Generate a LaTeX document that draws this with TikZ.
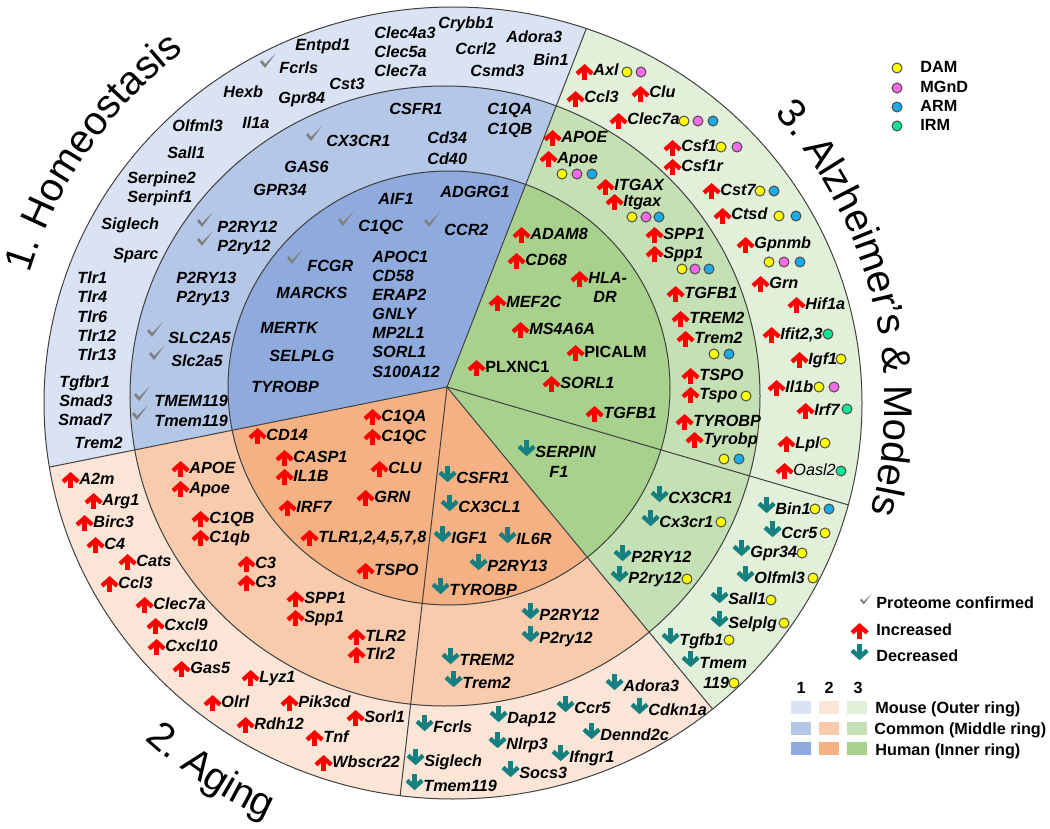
\documentclass[tikz,border=0pt]{standalone}
\usepackage{fontspec}
\setmainfont{Liberation Sans}
\usetikzlibrary{arrows.meta}
\definecolor{bluO}{HTML}{DAE3F3}
\definecolor{bluM}{HTML}{B4C7E7}
\definecolor{bluI}{HTML}{8FAADC}
\definecolor{oraO}{HTML}{FBE5D6}
\definecolor{oraM}{HTML}{F8CBAD}
\definecolor{oraI}{HTML}{F4B183}
\definecolor{grnO}{HTML}{E2F0D9}
\definecolor{grnM}{HTML}{C5E0B4}
\definecolor{grnI}{HTML}{A9D18E}
\definecolor{upred}{HTML}{FF0000}
\definecolor{dnteal}{HTML}{168080}
\definecolor{chkgray}{HTML}{7F7F7F}
\definecolor{damc}{HTML}{FFFF00}
\definecolor{mgndc}{HTML}{F76BE9}
\definecolor{armc}{HTML}{1AABE8}
\definecolor{irmc}{HTML}{10E596}
\newcommand{\gf}{\fontsize{8.1}{9.7}\selectfont\bfseries\itshape}
\newcommand{\lgf}{\fontsize{8.1}{9.7}\selectfont\bfseries}
\newcommand{\ttf}{\fontsize{20}{24}\selectfont}
\tikzset{
  gn/.style={font=\gf, inner sep=0pt, anchor=base west},
  lg/.style={font=\lgf, inner sep=0pt, anchor=base west},
  ttlch/.style={font=\ttf, inner sep=0pt, anchor=base},
  ringln/.style={draw=black!75, line width=0.5pt},
  upa/.style={draw=upred, line width=2.2pt, -{Straight Barb[length=3.4pt,width=7.6pt]}},
  dna/.style={draw=dnteal, line width=2.2pt, -{Straight Barb[length=3.4pt,width=7.6pt]}},
  mk/.style={draw=black!70, line width=0.5pt, fill=#1},
  chk/.pic={\fill[chkgray] (-8,0) -- (-6,-2) -- (-3,2) -- (8,-9) -- (-3,6) -- cycle;},
}
\newcommand{\incr}{\tikz[x=1pt,y=1pt,baseline=0pt]{\useasboundingbox (0,-2) rectangle (8,7); \draw[upa] (3.6,-1.8) -- (3.6,6);}}
\newcommand{\decr}{\tikz[x=1pt,y=1pt,baseline=0pt]{\useasboundingbox (0,-2) rectangle (8,8.5); \draw[dna] (3.6,8.3) -- (3.6,0.4);}}

\begin{document}
\begin{tikzpicture}[x=0.5pt, y=-0.5pt]
  \useasboundingbox (0,0) rectangle (1050,829);
  \coordinate (J) at (447,387);
  \coordinate (oc) at (453,403);
  \coordinate (mc) at (445,396);
  \coordinate (ic) at (449,388);
  \coordinate (Af) at (861,-678);
  \coordinate (Bf) at (-744,627);
  \coordinate (Cf) at (306,1617);
  \coordinate (Df) at (1251,1362);
  \coordinate (Ef) at (1662,744);

  % sectors
  \begin{scope}
    \clip (J) -- (Af) -- (-800,-800) -- (Bf) -- cycle;
    \foreach \cen/\rx/\ry/\col in {oc/409/396/bluO, mc/315/310/bluM, ic/221/217/bluI}
      \fill[\col] (\cen) ellipse [x radius=\rx, y radius=\ry];
  \end{scope}
  \begin{scope}
    \clip (J) -- (Bf) -- (-800,1700) -- (Cf) -- (Df) -- cycle;
    \foreach \cen/\rx/\ry/\col in {oc/409/396/oraO, mc/315/310/oraM, ic/221/217/oraI}
      \fill[\col] (\cen) ellipse [x radius=\rx, y radius=\ry];
  \end{scope}
  \begin{scope}
    \clip (J) -- (Df) -- (Ef) -- (Af) -- cycle;
    \foreach \cen/\rx/\ry/\col in {oc/409/396/grnO, mc/315/310/grnM, ic/221/217/grnI}
      \fill[\col] (\cen) ellipse [x radius=\rx, y radius=\ry];
  \end{scope}
  \foreach \cen/\rx/\ry in {oc/409/396, mc/315/310, ic/221/217}
    \draw[ringln] (\cen) ellipse [x radius=\rx, y radius=\ry];
  \begin{scope}
    \clip (oc) ellipse [x radius=409, y radius=396];
    \foreach \p in {Af, Bf, Cf, Df, Ef}
      \draw[ringln] (J) -- (\p);
  \end{scope}

  % titles, one letter at a time round the rim
  \foreach \c/\w [count=\i, remember=\e as \s (initially -163), evaluate=\w as \e using \s+\w*5.173]
      in {1/.556, ./.278, {}/.278, H/.722, o/.556, m/.833, e/.556, o/.556, s/.5, t/.278, a/.556,
          s/.5, i/.222, s/.5} {
    \pgfmathsetmacro{\m}{\s+\w*2.587}
    \path (oc) ++(\m:443) node[ttlch, rotate={-90-(\m)}] (homt\i) {\c};
  }
  \foreach \c/\w [count=\i, remember=\e as \s (initially -42), evaluate=\w as \e using \s+\w*5.305]
      in {3/.556, ./.278, {}/.278, A/.667, l/.222, z/.5, h/.556, e/.556, i/.222, m/.833, e/.556,
          r/.333, '/.191, s/.5, {}/.278, \&/.667, {}/.278, M/.833, o/.556, d/.556, e/.556, l/.222,
          s/.5} {
    \pgfmathsetmacro{\m}{\s+\w*2.653}
    \path (oc) ++(\m:432) node[ttlch, rotate={-90-(\m)}] (adt\i) {\c};
  }
  \foreach \c/\w [count=\i, remember=\e as \s (initially 132.5), evaluate=\w as \e using \s-\w*5.026]
      in {2/.556, ./.278, {}/.278, A/.667, g/.556, i/.222, n/.556, g/.556} {
    \pgfmathsetmacro{\m}{\s-\w*2.513}
    \path (oc) ++(\m:456) node[ttlch, rotate={90-(\m)}] (agt\i) {\c};
  }

  % homeostasis
  \foreach \x/\y/\t [count=\i] in {295/51/Entpd1, 279/74/Fcrls, 374/39/Clec4a3, 374/58/Clec5a,
      374/77/Clec7a, 438/29/Crybb1, 506/43/Adora3, 455/55/Ccrl2, 533/66/Bin1, 470/77/Csmd3,
      223/98/Hexb, 278/104/Gpr84, 329/90/Cst3, 172/132/Olfml3, 242/129/Il1a, 167/159/Sall1,
      127/184/Serpine2, 127/203/Serpinf1, 101/229/Siglech, 113/259/Sparc, 77/283/Tlr1,
      77/302/Tlr4, 77/322/Tlr6, 77/341/Tlr12, 77/360/Tlr13, 59/387/Tgfbr1, 59/406/Smad3,
      58/425/Smad7, 74/448/Trem2}
    \node[gn] (hmo\i) at (\x,\y) {\t};
  \foreach \x/\y/\t [count=\i] in {389/115/CSFR1, 487/115/C1QA, 487/134/C1QB, 326/147/CX3CR1,
      427/144/Cd34, 427/164/Cd40, 284/172/GAS6, 253/195/GPR34, 217/233/P2RY12, 217/251/P2ry12,
      176/283/P2RY13, 176/302/P2ry13, 168/343/SLC2A5, 171/366/Slc2a5, 154/406/TMEM119,
      154/426/Tmem119}
    \node[gn] (hmm\i) at (\x,\y) {\t};
  \foreach \x/\y/\t [count=\i] in {378/205/AIF1, 440/198/ADGRG1, 358/231/C1QC, 444/235/CCR2,
      307/271/FCGR, 372/262/APOC1, 372/281/CD58, 372/300/ERAP2, 372/319/GNLY, 372/338/MP2L1,
      372/357/SORL1, 372/377/S100A12, 276/298/MARCKS, 260/333/MERTK, 269/361/SELPLG,
      251/392/TYROBP}
    \node[gn] (hmi\i) at (\x,\y) {\t};
  \foreach \x/\y in {268/62, 314/135, 205/221, 205/240, 155/331, 157/354, 142/395, 140/414,
      346/220, 432/221, 295/258}
    \pic at (\x,\y) {chk};

  % alzheimer's
  \foreach \x/\y/\t [count=\i] in {514/239/\incr ADAM8, 509/265/\incr CD68, 572/283/\incr HLA-,
      593/302/DR, 490/307/\incr MEF2C, 513/334/\incr MS4A6A, 568/357/{\incr\upshape PICALM},
      469/372/{\incr\upshape PLXNC1}, 544/388/\incr SORL1, 587/418/\incr TGFB1,
      519/457/\decr SERPIN, 549/477/F1}
    \node[gn] (adi\i) at (\x,\y) {\t};
  \foreach \x/\y/\t [count=\i] in {545/142/\incr APOE, 541/163/\incr Apoe, 598/191/\incr ITGAX,
      607/206/\incr Itgax, 647/239/\incr SPP1, 647/258/\incr Spp1, 668/298/\incr TGFB1,
      673/323/\incr TREM2, 678/343/\incr Trem2, 683/380/\incr TSPO, 683/399/\incr Tspo,
      677/426/\incr TYROBP, 687/444/\incr Tyrobp, 652/503/\decr CX3CR1, 643/527/\decr Cx3cr1,
      615/562/\decr P2RY12, 612/583/\decr P2ry12}
    \node[gn] (adm\i) at (\x,\y) {\t};
  \foreach \x/\y/\t [count=\i] in {577/76/\incr Axl, 633/98/\incr Clu, 568/103/\incr Ccl3,
      611/125/\incr Clec7a, 665/152/\incr Csf1, 665/171/\incr Csf1r, 704/195/\incr Cst7,
      715/220/\incr Ctsd, 738/249/\incr Gpnmb, 753/288/\incr Grn, 789/309/\incr Hif1a,
      764/339/{\incr Ifit2,3}, 792/364/\incr Igf1, 769/392/\incr Il1b, 798/415/\incr Irf7,
      779/448/\incr Lpl, 777/475/{\incr\mdseries Oasl2}, 759/514/\decr Bin1, 765/538/\decr Ccr5,
      734/557/\decr Gpr34, 738/583/\decr Olfml3, 712/604/\decr Sall1, 712/628/\decr Selplg,
      663/645/\decr Tgfb1, 683/668/\decr Tmem, 703/688/119}
    \node[gn] (ado\i) at (\x,\y) {\t};
  \foreach \x/\y/\c in {562/174/damc, 577/174/mgndc, 592/174/armc, 632/217/damc, 646/217/mgndc,
      659/217/armc, 682/269/damc, 695/269/mgndc, 709/269/armc, 714/354/damc, 729/354/armc,
      746/396/damc, 724/459/damc, 739/459/armc, 721/522/damc, 687/579/damc, 627/72/damc,
      641/72/mgndc, 684/121/damc, 698/121/mgndc, 713/121/armc, 721/147/damc, 737/147/mgndc,
      760/191/damc, 774/191/armc, 779/216/damc, 796/216/armc, 769/262/damc, 784/262/mgndc,
      800/262/armc, 828/334/irmc, 841/359/damc, 819/387/damc, 834/387/mgndc, 847/409/irmc,
      825/443/damc, 841/471/irmc, 815/509/damc, 829/509/armc, 825/533/damc, 802/553/damc,
      813/578/damc, 771/600/damc, 784/623/damc, 729/640/damc, 734/683/damc}
    \filldraw[mk=\c] (\x,\y) circle (5);

  % aging
  \foreach \x/\y/\t [count=\i] in {365/421/\incr C1QA, 365/441/\incr C1QC, 250/440/\incr CD14,
      277/462/\incr CASP1, 277/481/\incr IL1B, 372/473/\incr CLU, 358/502/\incr GRN,
      280/512/\incr IRF7, 302/542/{\incr TLR1,2,4,5,7,8}, 358/575/\incr TSPO,
      440/483/\decr CSFR1, 442/512/\decr CX3CL1, 435/543/\decr IGF1, 500/544/\decr IL6R,
      471/571/\decr P2RY13, 433/595/\decr TYROBP}
    \node[gn] (agi\i) at (\x,\y) {\t};
  \foreach \x/\y/\t [count=\i] in {173/473/\incr APOE, 173/493/\incr Apoe, 193/523/\incr C1QB,
      193/542/\incr C1qb, 239/568/\incr C3, 239/587/\incr C3, 288/603/\incr SPP1,
      288/622/\incr Spp1, 349/641/\incr TLR2, 349/659/\incr Tlr2, 523/620/\decr P2RY12,
      523/643/\decr P2ry12, 443/665/\decr TREM2, 446/688/\decr Trem2}
    \node[gn] (agm\i) at (\x,\y) {\t};
  \foreach \x/\y/\t [count=\i] in {63/484/\incr A2m, 86/505/\incr Arg1, 77/527/\incr Birc3,
      88/549/\incr C4, 120/566/\incr Cats, 102/588/\incr Ccl3, 137/609/\incr Clec7a,
      148/630/\incr Cxcl9, 149/651/\incr Cxcl10, 174/673/\incr Gas5, 243/682/\incr Lyz1,
      205/707/\incr Olrl, 282/707/\incr Pik3cd, 238/729/\incr Rdh12, 348/722/\incr Sorl1,
      307/742/\incr Tnf, 316/767/\incr Wbscr22, 417/732/\decr Fcrls, 408/766/\decr Siglech,
      407/791/\decr Tmem119, 491/723/\decr Dap12, 490/749/\decr Nlrp3, 503/778/\decr Socs3,
      558/713/\decr Ccr5, 607/691/\decr Adora3, 632/715/\decr Cdkn1a, 584/740/\decr Dennd2c,
      553/762/\decr Ifngr1}
    \node[gn] (ago\i) at (\x,\y) {\t};

  % legend
  \foreach \y/\c/\t [count=\i] in {68/damc/DAM, 88/mgndc/MGnD, 107/armc/ARM, 126/irmc/IRM} {
    \filldraw[mk=\c] (897,\y) circle (5);
    \node[lg] (key\i) at (920,\y+5) {\t};
  }
  \pic[scale=0.75] at (866,600) {chk};
  \node[lg] (prot) at (876,608) {Proteome confirmed};
  \node[lg] (incar) at (852,635) {\incr};
  \node[lg] (inc) at (876,635) {Increased};
  \node[lg] (decar) at (852,661) {\decr};
  \node[lg] (dec) at (876,661) {Decreased};
  \foreach \x/\n in {801/1, 829/2, 858/3}
    \node[lg, anchor=base] (col\n) at (\x,693) {\n};
  \foreach \x/\a/\b/\c in {791/bluO/bluM/bluI, 819/oraO/oraM/oraI, 847/grnO/grnM/grnI} {
    \fill[\a] (\x,701) rectangle ++(20,13);
    \fill[\b] (\x,722) rectangle ++(20,13);
    \fill[\c] (\x,742) rectangle ++(20,13);
  }
  \node[lg] (mouse) at (875,713) {Mouse (Outer ring)};
  \node[lg] (common) at (874,734) {Common (Middle ring)};
  \node[lg] (human) at (875,755) {Human (Inner ring)};
\end{tikzpicture}
\end{document}
